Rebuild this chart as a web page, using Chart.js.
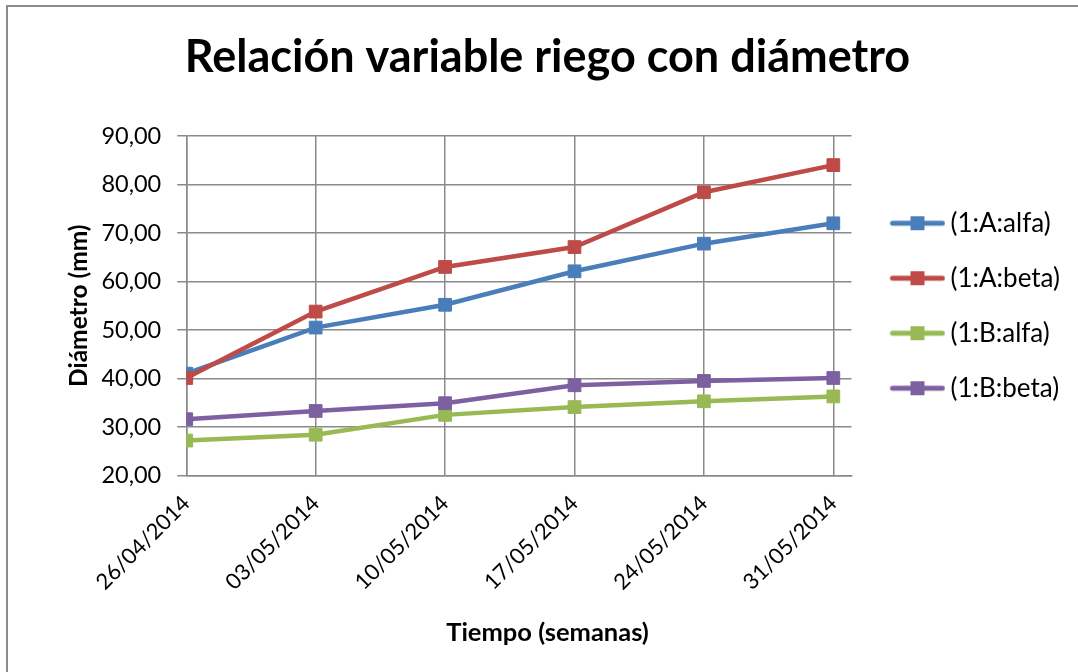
<!DOCTYPE html>
<html>
<head>
<meta charset="utf-8">
<script src="https://cdn.jsdelivr.net/npm/chart.js@4/dist/chart.umd.min.js"></script>
<style>
  html, body { margin: 0; padding: 0; background: #fff; overflow: hidden; }
  #marco { position: absolute; left: 6px; top: 5px; width: 1200px; height: 800px; border: 2px solid #8c8c8c; }
  #lienzo { position: absolute; left: 0; top: 0; width: 1078px; height: 672px; }
</style>
</head>
<body>
<div id="marco"></div>
<div id="lienzo"><canvas id="grafico" width="1078" height="672"></canvas></div>
<script>
const fechas = ["26/04/2014", "03/05/2014", "10/05/2014", "17/05/2014", "24/05/2014", "31/05/2014"];
const aAlfa = [41.0, 50.5, 55.2, 62.1, 67.8, 72.0];
const aBeta = [40.1, 53.8, 63.0, 67.1, 78.4, 84.0];
const bAlfa = [27.2, 28.4, 32.5, 34.1, 35.3, 36.3];
const bBeta = [31.6, 33.3, 34.9, 38.6, 39.5, 40.1];
const ticksY = [20, 30, 40, 50, 60, 70, 80, 90];

const FUENTE = "Lato, 'Open Sans', sans-serif";
const GRIS = "#8a8a8a";

// icono de leyenda: linea con cuadrado al centro (margen transparente a la izquierda)
function iconoLeyenda(color) {
  const m = 17;
  const c = document.createElement("canvas");
  c.width = 56 + m; c.height = 16;
  const g = c.getContext("2d");
  g.strokeStyle = color;
  g.lineWidth = 5;
  g.lineCap = "round";
  g.beginPath();
  g.moveTo(m + 3, 8); g.lineTo(m + 53, 8);
  g.stroke();
  g.fillStyle = color;
  g.fillRect(m + 21, 1, 14, 14);
  return c;
}

function serie(nombre, valores, color, orden) {
  return {
    label: nombre,
    data: valores.map((v, i) => ({ x: i, y: v })),
    borderColor: color,
    backgroundColor: color,
    borderWidth: 4.5,
    pointStyle: "rect",
    pointRadius: 9,
    pointHoverRadius: 9,
    pointBorderWidth: 1,
    pointBorderColor: color,
    pointBackgroundColor: color,
    tension: 0,
    order: orden,
    icono: iconoLeyenda(color)
  };
}

new Chart(document.getElementById("grafico"), {
  type: "line",
  data: {
    datasets: [
      serie("(1:A:alfa)", aAlfa, "#4a7ebb", 4),
      serie("(1:A:beta)", aBeta, "#be4b48", 3),
      serie("(1:B:alfa)", bAlfa, "#98b954", 2),
      serie("(1:B:beta)", bBeta, "#7d60a0", 1)
    ]
  },
  options: {
    responsive: false,
    animation: false,
    layout: { padding: { left: 25, right: 8, top: 0, bottom: 0 } },
    plugins: {
      title: {
        display: true,
        text: "Relación variable riego con diámetro",
        color: "#000",
        font: { family: FUENTE, size: 45, weight: "bold" },
        padding: { top: 30, bottom: 52 }
      },
      subtitle: {
        display: true,
        position: "bottom",
        text: "Tiempo (semanas)",
        color: "#000",
        font: { family: FUENTE, size: 25.5, weight: "bold" },
        padding: { top: 7, bottom: 24 }
      },
      legend: {
        position: "right",
        fullSize: false,
        labels: {
          usePointStyle: true,
          pointStyleWidth: 57,
          padding: 29,
          color: "#000",
          font: { family: FUENTE, size: 26 },
          generateLabels(chart) {
            return chart.data.datasets.map((ds, i) => ({
              text: ds.label,
              pointStyle: ds.icono,
              fillStyle: ds.borderColor,
              strokeStyle: ds.borderColor,
              lineWidth: 0,
              hidden: false,
              datasetIndex: i
            }));
          }
        }
      },
      tooltip: { enabled: false }
    },
    scales: {
      x: {
        type: "linear",
        min: 0,
        max: fechas.length - 1 + 0.14,
        afterBuildTicks(eje) { eje.ticks = fechas.map((f, i) => ({ value: i })); },
        grid: { color: GRIS, lineWidth: 1.5, drawTicks: false },
        border: { color: GRIS, width: 1.5 },
        ticks: {
          color: "#000",
          font: { family: FUENTE, size: 22 },
          minRotation: 45,
          maxRotation: 45,
          padding: 15,
          autoSkip: false,
          callback: v => fechas[v]
        }
      },
      y: {
        min: 20,
        max: 90,
        afterBuildTicks(eje) { eje.ticks = ticksY.map(v => ({ value: v })); },
        grid: { color: GRIS, lineWidth: 1.5, tickLength: 9 },
        border: { color: GRIS, width: 1.5 },
        ticks: {
          color: "#000",
          font: { family: FUENTE, size: 23.5 },
          padding: 16,
          callback: v => v.toFixed(2).replace(".", ",")
        },
        title: {
          display: true,
          text: "Diámetro (mm)",
          color: "#000",
          font: { family: FUENTE, size: 24.5, weight: "bold" },
          padding: { top: 39, bottom: -8 }
        }
      }
    }
  }
});
</script>
</body>
</html>
